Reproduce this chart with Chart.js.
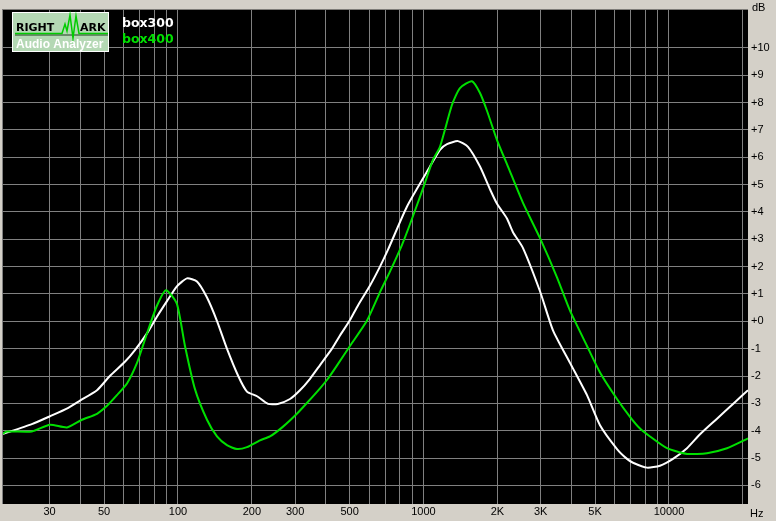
<!DOCTYPE html>
<html>
<head>
<meta charset="utf-8">
<script src="https://cdn.jsdelivr.net/npm/chart.js@4.4.0/dist/chart.umd.min.js"></script>
<style>
  body { margin: 0; background: #d4d0c8; }
  canvas { display: block; }
</style>
</head>
<body>
<canvas id="frChart" width="776" height="521"></canvas>
<script>
// frequency response readings (Hz / dB)
const freq300 = [19.2, 25.4, 30.1, 35.6, 39.9, 46.8, 52.8, 60.8, 66.8, 74.8, 82.1, 90.2, 99, 108.8, 119.5, 131, 144, 158, 176, 191, 210, 233, 255, 286, 314, 345, 379, 424, 457, 502, 541, 605, 665, 717, 857, 1063, 1167, 1247, 1382, 1518, 1699, 1866, 1993, 2188, 2315, 2543, 2983, 3369, 3952, 4635, 5236, 6142, 6745, 7136, 8137, 9189, 10380, 11840, 13380, 15690, 18230, 20980];
const db300 = [-4.13, -3.76, -3.47, -3.17, -2.9, -2.52, -2.0, -1.48, -1.05, -0.44, 0.17, 0.74, 1.28, 1.57, 1.46, 0.89, 0.03, -0.98, -2.0, -2.57, -2.74, -3.02, -3.02, -2.84, -2.52, -2.1, -1.6, -1.0, -0.52, 0.05, 0.58, 1.3, 2.0, 2.62, 4.2, 5.66, 6.27, 6.48, 6.59, 6.38, 5.66, 4.83, 4.3, 3.76, 3.26, 2.68, 1.1, -0.33, -1.52, -2.7, -3.8, -4.67, -5.03, -5.17, -5.35, -5.28, -5.03, -4.64, -4.13, -3.56, -3.02, -2.52];

const freq400 = [19.2, 20.1, 25.4, 30.1, 35.3, 40.6, 46.8, 51.4, 56.4, 62, 68.1, 74.8, 82.1, 89.4, 99, 106.8, 117.3, 131.3, 144.2, 158.3, 173.9, 191, 216, 237, 268, 305, 338, 379, 408, 444, 502, 589, 665, 730, 817, 881, 995, 1093, 1167, 1307, 1408, 1576, 1699, 1814, 1993, 2209, 2543, 2983, 3498, 3952, 4635, 5236, 6142, 6937, 7620, 8369, 9815, 11840, 14280, 17230, 20980];
const db400 = [-4.13, -4.03, -4.03, -3.78, -3.88, -3.6, -3.38, -3.09, -2.7, -2.27, -1.52, -0.44, 0.57, 1.14, 0.64, -0.9, -2.48, -3.6, -4.21, -4.53, -4.67, -4.6, -4.35, -4.21, -3.85, -3.38, -2.95, -2.45, -2.1, -1.62, -0.9, 0.03, 1.07, 1.82, 2.79, 3.55, 4.85, 5.9, 6.38, 7.92, 8.53, 8.78, 8.35, 7.7, 6.63, 5.66, 4.33, 3.04, 1.61, 0.39, -0.9, -1.87, -2.84, -3.49, -3.92, -4.21, -4.64, -4.85, -4.82, -4.64, -4.28];

const seriesNames = ['box300', 'box400'];
const yTicks = [-6, -5, -4, -3, -2, -1, 0, 1, 2, 3, 4, 5, 6, 7, 8, 9, 10];
const xGrid = [30, 40, 50, 60, 70, 80, 90, 100, 200, 300, 400, 500, 600, 700, 800, 900,
               1000, 2000, 3000, 4000, 5000, 6000, 7000, 8000, 9000, 10000, 20000];
const xLabelValues = [30, 50, 100, 200, 300, 500, 1000, 2000, 3000, 5000, 10000];
const xLabelTexts = ['30', '50', '100', '200', '300', '500', '1000', '2K', '3K', '5K', '10000'];

const tickFont = { family: 'Liberation Sans', size: 11 };

// black plot area + frame
const plotBg = {
    id: 'plotBg',
    beforeDraw(chart) {
        const { ctx, chartArea: a } = chart;
        ctx.save();
        ctx.fillStyle = '#000';
        ctx.fillRect(a.left, a.top, a.right - a.left, a.bottom - a.top);
        ctx.restore();
    },
    afterDraw(chart) {
        const { ctx, chartArea: a } = chart;
        ctx.save();
        ctx.strokeStyle = '#808080';
        ctx.lineWidth = 1;
        ctx.beginPath();
        ctx.moveTo(a.left + 0.5, a.top);
        ctx.lineTo(a.left + 0.5, a.bottom);
        ctx.stroke();

        // unit labels
        ctx.fillStyle = '#000';
        ctx.font = '11px Liberation Sans';
        ctx.textBaseline = 'alphabetic';
        ctx.textAlign = 'left';
        ctx.fillText('dB', a.right + 4, 11);
        ctx.fillText('Hz', a.right + 2, 517);

        // RightMark logo
        ctx.fillStyle = '#b4d8b4';
        ctx.fillRect(12, 12, 97, 40);
        ctx.strokeStyle = '#ffffff';
        ctx.strokeRect(12.5, 12.5, 96, 39);
        ctx.fillStyle = '#000';
        ctx.font = 'bold 11px DejaVu Sans';
        ctx.fillText('RIGHT', 16, 31);
        ctx.fillText('ARK', 80, 31);
        ctx.strokeStyle = '#1e3a1e';
        ctx.beginPath();
        ctx.moveTo(15, 35); ctx.lineTo(108, 35);
        ctx.stroke();
        ctx.strokeStyle = '#00cc00';
        ctx.lineWidth = 1.5;
        ctx.beginPath();
        ctx.moveTo(15, 33.5); ctx.lineTo(62, 33.5);
        ctx.lineTo(65, 24); ctx.lineTo(67, 31); ctx.lineTo(70, 15);
        ctx.lineTo(73, 38); ctx.lineTo(76, 16); ctx.lineTo(79, 33.5);
        ctx.lineTo(108, 33.5);
        ctx.stroke();
        ctx.fillStyle = '#ffffff';
        ctx.font = 'bold 12px Liberation Sans';
        ctx.fillText('Audio Analyzer', 16, 48);

        // series names
        ctx.font = 'bold 12.5px DejaVu Sans';
        ctx.fillStyle = '#ffffff';
        ctx.fillText(seriesNames[0], 122, 27);
        ctx.fillStyle = '#00e000';
        ctx.fillText(seriesNames[1], 122, 43);
        ctx.restore();
    }
};

new Chart(document.getElementById('frChart'), {
    type: 'line',
    data: {
        datasets: [{
            label: seriesNames[0],
            data: freq300.map((f, i) => ({ x: f, y: db300[i] })),
            borderColor: '#ffffff',
            borderWidth: 2,
            pointRadius: 0,
            tension: 0.2,
            order: 2
        }, {
            label: seriesNames[1],
            data: freq400.map((f, i) => ({ x: f, y: db400[i] })),
            borderColor: '#00e000',
            borderWidth: 2,
            pointRadius: 0,
            tension: 0.2,
            order: 1
        }]
    },
    options: {
        responsive: false,
        animation: false,
        devicePixelRatio: 1,
        layout: { padding: { left: 2, top: 0, right: 0, bottom: 0 } },
        plugins: { legend: { display: false }, tooltip: { enabled: false } },
        scales: {
            x: {
                type: 'logarithmic',
                min: 19.2,
                max: 20980,
                afterBuildTicks: s => { s.ticks = xGrid.map(v => ({ value: v })); },
                afterFit: s => { s.height = 17; },
                ticks: {
                    autoSkip: false,
                    maxRotation: 0,
                    padding: 1,
                    color: '#000',
                    font: tickFont,
                    callback: v => {
                        const i = xLabelValues.indexOf(v);
                        return i >= 0 ? xLabelTexts[i] : '';
                    }
                },
                grid: { color: '#808080', lineWidth: 1, drawTicks: false },
                border: { display: false }
            },
            y: {
                type: 'linear',
                position: 'right',
                min: -6.68,
                max: 11.4,
                afterBuildTicks: s => { s.ticks = yTicks.map(v => ({ value: v })); },
                afterFit: s => { s.width = 28; },
                ticks: {
                    padding: 3,
                    color: '#000',
                    font: tickFont,
                    callback: v => (v >= 0 ? '+' : '') + v
                },
                grid: { color: '#808080', lineWidth: 1, drawTicks: false },
                border: { display: false }
            }
        }
    },
    plugins: [plotBg]
});
</script>
</body>
</html>
